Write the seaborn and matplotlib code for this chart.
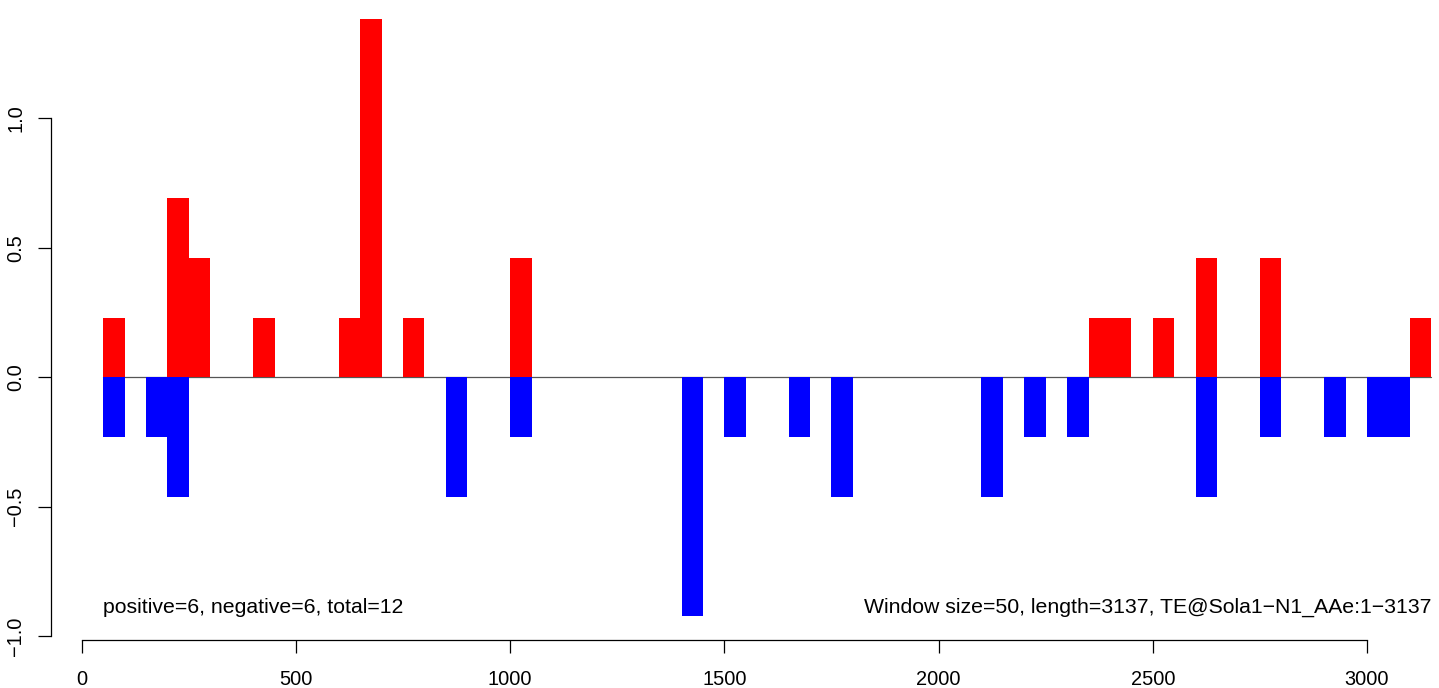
import numpy as np
import pandas as pd
import seaborn as sns
import matplotlib.pyplot as plt

# window centres (window size 50) and scores
pos_x = [75, 225, 275, 425, 625, 675, 775, 1025, 2375, 2425, 2525, 2625, 2775, 3125]
pos_y = [0.230, 0.691, 0.461, 0.230, 0.230, 1.382, 0.230, 0.461, 0.230, 0.230, 0.230, 0.461, 0.461, 0.230]
neg_x = [75, 175, 225, 875, 1025, 1425, 1525, 1675, 1775, 2125, 2225, 2325, 2625, 2775, 2925, 3025, 3075]
neg_y = [-0.230, -0.230, -0.461, -0.461, -0.230, -0.921, -0.230, -0.230, -0.461, -0.461,
         -0.230, -0.230, -0.461, -0.230, -0.230, -0.230, -0.230]
x_ticks = [0, 500, 1000, 1500, 2000, 2500, 3000]
y_ticks = [-1.0, -0.5, 0.0, 0.5, 1.0]
y_tick_labels = ["\u22121.0", "\u22120.5", "0.0", "0.5", "1.0"]
left_note = "positive=6, negative=6, total=12"
right_note = "Window size=50, length=3137, TE@Sola1\u2212N1_AAe:1\u22123137"

sns.set_style("white")
plt.rcParams['font.family'] = ['Liberation Sans', 'DejaVu Sans']
plt.rcParams['text.color'] = 'black'
plt.rcParams['xtick.color'] = 'black'
plt.rcParams['ytick.color'] = 'black'

df = pd.DataFrame({
    "pos": pos_x + neg_x,
    "score": pos_y + neg_y,
    "sign": ["pos"] * len(pos_x) + ["neg"] * len(neg_x),
})

W, H = 1439, 688
fig = plt.figure(figsize=(W / 100, H / 100), dpi=100)
ax = fig.add_axes([50.7 / W, (H - 640) / H, (W - 50.7) / W, 640 / H])

ax.plot([50, 3150], [0, 0], color="#555555", lw=0.9, zorder=1)
sns.barplot(data=df, x="pos", y="score", hue="sign", palette={"pos": "#ff0000", "neg": "#0000ff"},
            native_scale=True, width=1, dodge=False, errorbar=None, linewidth=0,
            saturation=1, legend=False, ax=ax, zorder=2)

ax.set_xlim(-72.4, 3168)
ax.set_ylim(-1.0143, 1.4568)
ax.set_xlabel("")
ax.set_ylabel("")

for s in ["top", "right"]:
    ax.spines[s].set_visible(False)
ax.spines["left"].set_bounds(-1, 1)
ax.spines["bottom"].set_bounds(0, 3000)
for s in ["left", "bottom"]:
    ax.spines[s].set_linewidth(0.9)
    ax.spines[s].set_color("black")

ax.set_xticks(x_ticks)
ax.set_xticklabels([str(t) for t in x_ticks])
ax.set_yticks(y_ticks)
ax.set_yticklabels(y_tick_labels, rotation=90, va="center")
ax.tick_params(axis="both", direction="out", length=9.4, width=0.9, color="black",
               labelcolor="black", labelsize=14.4, bottom=True, left=True)
ax.tick_params(axis="x", pad=12)
ax.tick_params(axis="y", pad=9)

ax.text(50, -0.887, left_note, ha="left", va="center", fontsize=15.3, color="black")
ax.text(3150, -0.887, right_note, ha="right", va="center", fontsize=15.3, color="black")

fig.savefig("out.png", dpi=100)
